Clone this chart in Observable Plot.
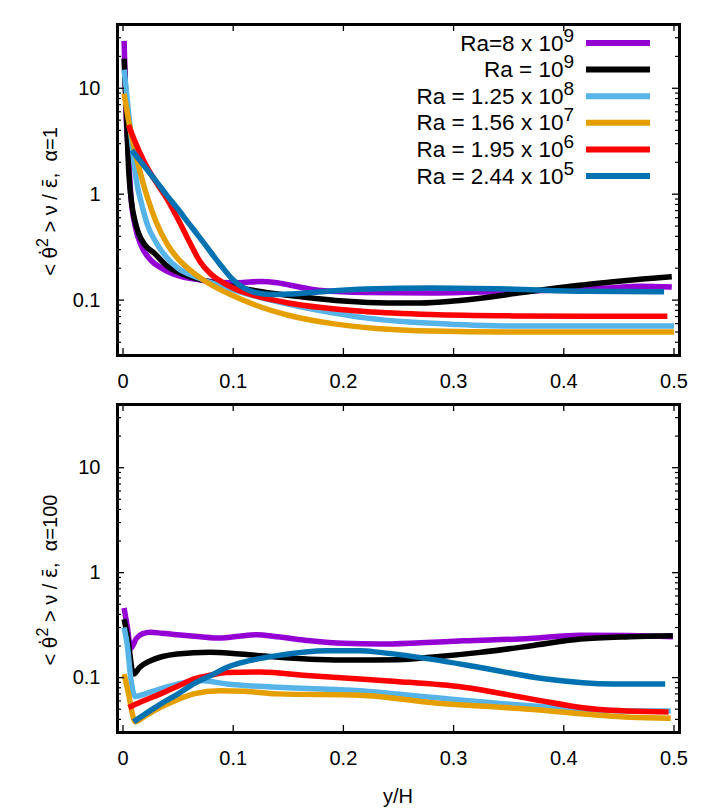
<!DOCTYPE html>
<html><head><meta charset="utf-8">
<script src="https://cdn.jsdelivr.net/npm/d3@7"></script>
<script src="https://cdn.jsdelivr.net/npm/@observablehq/plot@0.6"></script>
<style>
body{margin:0;background:#fff;}
#chart{width:723px;height:809px;font-family:"Liberation Sans",Arial,sans-serif;background:#fff;}
#chart svg{display:block;}
</style></head><body><div id="chart"></div>
<script>
// ---- data (x = y/H, value = <θ̇²> ν / ε̄) ----
const xTicks = [0, 0.1, 0.2, 0.3, 0.4, 0.5];
const yTicks = [0.1, 1, 10];
const yMinor = [0.03,0.04,0.05,0.06,0.07,0.08,0.09,0.2,0.3,0.4,0.5,0.6,0.7,0.8,0.9,2,3,4,5,6,7,8,9,20,30,40];
const legendBase = ["Ra=8 x 10", "Ra = 10", "Ra = 1.25 x 10", "Ra = 1.56 x 10", "Ra = 1.95 x 10", "Ra = 2.44 x 10"];
const legendExp = ["9", "9", "8", "7", "6", "5"];
const colors = ["#9400d3", "#000000", "#56b4e9", "#e69f00", "#ff0000", "#0072b2"];

// alpha = 1 (top panel)
const a1_Ra8e9 = [[0.001,28],[0.003,5],[0.005,2.3],[0.007,1.0],[0.011,0.5],[0.017,0.32],[0.025,0.24],[0.035,0.2],[0.05,0.17],[0.07,0.155],[0.09,0.147],[0.105,0.146],[0.125,0.15],[0.14,0.146],[0.16,0.133],[0.18,0.123],[0.22,0.118],[0.28,0.117],[0.32,0.119],[0.36,0.121],[0.40,0.125],[0.44,0.13],[0.47,0.135],[0.498,0.133]];
const a1_Ra1e9 = [[0.001,19],[0.003,6],[0.005,1.8],[0.008,0.8],[0.011,0.55],[0.014,0.43],[0.02,0.33],[0.028,0.28],[0.04,0.21],[0.055,0.175],[0.075,0.152],[0.1,0.134],[0.13,0.118],[0.16,0.108],[0.2,0.098],[0.24,0.094],[0.27,0.094],[0.3,0.098],[0.33,0.106],[0.36,0.117],[0.39,0.129],[0.42,0.14],[0.45,0.151],[0.475,0.159],[0.498,0.166]];
const a1_Ra125e8 = [[0.001,15],[0.004,7.5],[0.007,3.8],[0.01,2.0],[0.013,1.2],[0.017,0.8],[0.022,0.52],[0.03,0.35],[0.04,0.25],[0.05,0.2],[0.065,0.167],[0.08,0.146],[0.1,0.125],[0.13,0.102],[0.16,0.087],[0.19,0.076],[0.22,0.068],[0.26,0.062],[0.3,0.059],[0.35,0.057],[0.4,0.057],[0.45,0.057],[0.5,0.057]];
const a1_Ra156e7 = [[0.001,8.9],[0.005,5.0],[0.01,2.8],[0.015,1.7],[0.02,1.1],[0.025,0.76],[0.03,0.55],[0.04,0.34],[0.05,0.245],[0.06,0.195],[0.075,0.15],[0.09,0.123],[0.1,0.11],[0.12,0.09],[0.15,0.072],[0.19,0.06],[0.23,0.054],[0.28,0.051],[0.35,0.05],[0.42,0.05],[0.5,0.05]];
const a1_Ra195e6 = [[0.005,4.5],[0.01,3.3],[0.02,1.95],[0.03,1.3],[0.04,0.9],[0.05,0.58],[0.06,0.36],[0.07,0.23],[0.08,0.175],[0.09,0.148],[0.1,0.13],[0.12,0.11],[0.15,0.094],[0.18,0.085],[0.22,0.078],[0.28,0.073],[0.35,0.071],[0.42,0.0705],[0.494,0.0705]];
const a1_Ra244e5 = [[0.008,2.6],[0.02,1.8],[0.03,1.33],[0.04,0.97],[0.05,0.72],[0.06,0.525],[0.07,0.385],[0.08,0.28],[0.09,0.205],[0.1,0.155],[0.11,0.13],[0.12,0.118],[0.135,0.113],[0.15,0.114],[0.18,0.12],[0.22,0.127],[0.28,0.13],[0.35,0.127],[0.42,0.121],[0.491,0.12]];

// alpha = 100 (bottom panel)
const a100_Ra8e9 = [[0.001,0.46],[0.004,0.3],[0.007,0.19],[0.012,0.235],[0.018,0.262],[0.025,0.27],[0.035,0.265],[0.049,0.256],[0.07,0.245],[0.088,0.238],[0.105,0.248],[0.121,0.256],[0.14,0.245],[0.17,0.224],[0.2,0.212],[0.233,0.209],[0.27,0.215],[0.309,0.224],[0.369,0.236],[0.415,0.254],[0.46,0.252],[0.499,0.245]];
const a100_Ra1e9 = [[0.001,0.36],[0.004,0.25],[0.0096,0.108],[0.015,0.125],[0.025,0.145],[0.035,0.158],[0.049,0.168],[0.079,0.174],[0.1,0.17],[0.124,0.162],[0.17,0.15],[0.215,0.147],[0.25,0.148],[0.279,0.156],[0.324,0.174],[0.369,0.2],[0.415,0.233],[0.46,0.245],[0.499,0.25]];
const a100_Ra125e8 = [[0.001,0.3],[0.004,0.2],[0.007,0.1],[0.011,0.066],[0.02,0.07],[0.034,0.078],[0.05,0.087],[0.07,0.094],[0.094,0.087],[0.14,0.081],[0.215,0.075],[0.279,0.065],[0.369,0.054],[0.46,0.048],[0.497,0.048]];
const a100_Ra156e7 = [[0.001,0.108],[0.005,0.07],[0.011,0.038],[0.02,0.043],[0.034,0.052],[0.05,0.062],[0.064,0.07],[0.088,0.075],[0.11,0.074],[0.14,0.07],[0.215,0.068],[0.279,0.058],[0.369,0.05],[0.46,0.042],[0.497,0.041]];
const a100_Ra195e6 = [[0.005,0.052],[0.015,0.058],[0.034,0.07],[0.05,0.083],[0.064,0.097],[0.08,0.106],[0.094,0.112],[0.124,0.113],[0.17,0.104],[0.215,0.097],[0.248,0.092],[0.309,0.081],[0.369,0.063],[0.43,0.05],[0.495,0.047]];
const a100_Ra244e5 = [[0.0096,0.038],[0.02,0.045],[0.034,0.056],[0.05,0.07],[0.064,0.087],[0.08,0.105],[0.094,0.125],[0.115,0.145],[0.14,0.162],[0.185,0.18],[0.215,0.18],[0.233,0.174],[0.279,0.15],[0.324,0.125],[0.384,0.097],[0.445,0.087],[0.492,0.087]];

const topSeries = [a1_Ra8e9, a1_Ra1e9, a1_Ra125e8, a1_Ra156e7, a1_Ra195e6, a1_Ra244e5];
const bottomSeries = [a100_Ra8e9, a100_Ra1e9, a100_Ra125e8, a100_Ra156e7, a100_Ra195e6, a100_Ra244e5];

const W = 723, ML = 117, MR = 44;
const FONT = "Liberation Sans, Arial, Helvetica, sans-serif";

function panel(series, height, mt, mb, alpha) {
  const fw = W - ML - MR, fh = height - mt - mb;
  const marks = [];
  series.forEach((pts, i) => marks.push(
    Plot.line(pts, {x: d => d[0], y: d => d[1], stroke: colors[i], strokeWidth: 5.5,
      curve: "monotone-x", strokeLinecap: "butt", strokeLinejoin: "round"})));
  marks.push(
    Plot.tickX(xTicks, {x: d => d, insetTop: fh - 7, strokeWidth: 1.3}),
    Plot.tickX(xTicks, {x: d => d, insetBottom: fh - 7, strokeWidth: 1.3}),
    Plot.tickY(yTicks, {y: d => d, insetRight: fw - 7, strokeWidth: 1.3}),
    Plot.tickY(yTicks, {y: d => d, insetLeft: fw - 7, strokeWidth: 1.3}),
    Plot.tickY(yMinor, {y: d => d, insetRight: fw - 4, strokeWidth: 1.2}),
    Plot.tickY(yMinor, {y: d => d, insetLeft: fw - 4, strokeWidth: 1.2}),
    Plot.axisX({ticks: xTicks, tickSize: 0, tickPadding: 18, tickFormat: d => String(d), label: null, fontSize: 20}),
    Plot.axisY({ticks: yTicks, tickSize: 0, tickPadding: 17, tickFormat: d => String(d), label: null, fontSize: 20}),
    Plot.frame({stroke: "black", strokeWidth: 3})
  );
  const svg = Plot.plot({
    width: W, height, marginLeft: ML, marginRight: MR, marginTop: mt, marginBottom: mb,
    x: {domain: [-0.005, 0.505]},
    y: {type: "log", domain: [0.03, 40]},
    style: {fontSize: "20px", fontFamily: FONT, color: "black", background: "white", overflow: "visible"},
    marks
  });
  // rotated y label
  const cy = mt + fh / 2 + 12;
  const t = d3.select(svg).append("text")
    .attr("transform", `translate(57,${cy}) rotate(-90)`)
    .attr("text-anchor", "middle").attr("font-size", 20).attr("font-family", FONT)
    .attr("fill", "black").style("white-space", "pre");
  t.append("tspan").text("< ");
  t.append("tspan").attr("font-family", "DejaVu Sans").attr("font-size", 19).text("θ\u0307");
  t.append("tspan").attr("dy", -9).attr("font-size", 16).text("2");
  t.append("tspan").attr("dy", 9).text(" > ν / ");
  t.append("tspan").attr("font-family", "DejaVu Sans").attr("font-size", 19).text("ε\u0304");
  t.append("tspan").text(",  α=" + alpha);
  return svg;
}

const topPanel = panel(topSeries, 390, 24, 35, "1");
const bottomPanel = panel(bottomSeries, 419, 14, 77, "100");

// legend in top panel
const lg = d3.select(topPanel).append("g").attr("font-family", FONT);
legendBase.forEach((base, i) => {
  const y = 43 + i * 26.6;
  lg.append("line").attr("x1", 586).attr("x2", 650).attr("y1", y).attr("y2", y)
    .attr("stroke", colors[i]).attr("stroke-width", 6);
  const t = lg.append("text").attr("x", 574).attr("y", y + 7.5).attr("text-anchor", "end")
    .attr("font-size", 22.5).attr("fill", "black").style("white-space", "pre");
  t.append("tspan").text(base);
  t.append("tspan").attr("dy", -9).attr("font-size", 19).text(legendExp[i]);
});

// x axis title
d3.select(bottomPanel).append("text").attr("x", ML + (W - ML - MR) / 2).attr("y", 413)
  .attr("text-anchor", "middle").attr("font-size", 20).attr("font-family", FONT).attr("fill", "black").text("y/H");

const chart = document.getElementById("chart");
chart.appendChild(topPanel);
chart.appendChild(bottomPanel);
</script></body></html>
